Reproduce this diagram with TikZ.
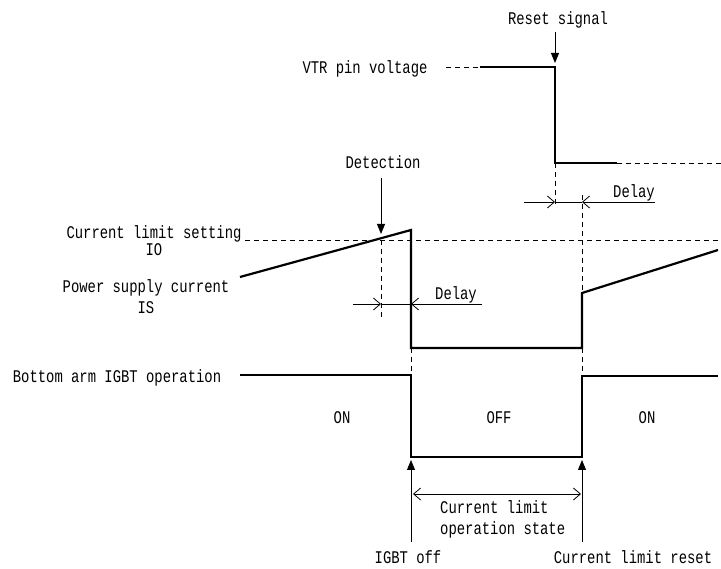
\documentclass[tikz,border=0pt]{standalone}
\usepackage{fontspec}
\newfontfamily\labelfont[FakeStretch=0.78]{Liberation Mono}
\usetikzlibrary{arrows.meta}

\begin{document}
\begin{tikzpicture}[x=1pt,y=-1pt,font=\labelfont\fontsize{17.8}{21}\selectfont,
  wave/.style={line width=2.2pt,line join=miter},
  guide/.style={line width=0.8pt,dash pattern=on 5pt off 4pt},
  dimline/.style={line width=0.8pt},
  pointer/.style={line width=0.9pt,-{Triangle[length=10pt,width=8pt]}},
  barb/.style={line width=0.8pt,-{Straight Barb[length=7pt,width=12pt]}},
  lbl/.style={inner sep=0pt}]
\useasboundingbox (0,0) rectangle (721,569);
% waveform corners
\coordinate (vh0) at (480,67);
\coordinate (vh) at (555,67);
\coordinate (vl) at (555,163);
\coordinate (vl1) at (617,163);
\coordinate (is0) at (240,277);
\coordinate (ispk) at (411,230);
\coordinate (isdn) at (411,348);
\coordinate (isbt) at (582,348);
\coordinate (isup) at (582,293);
\coordinate (isend) at (718,250);
\coordinate (trip) at (381,240);
\coordinate (g0) at (240,375);
\coordinate (g1) at (411,375);
\coordinate (g2) at (411,457);
\coordinate (g3) at (582,457);
\coordinate (g4) at (582,376);
\coordinate (g5) at (718,376);
% labels
\node[lbl] (reset) at (558,20) {Reset signal};
\node[lbl] (vtr) at (365,69) {VTR pin voltage};
\node[lbl] (det) at (383,162) {Detection};
\node[lbl,align=center] (lim) at (154,241) {Current limit setting\\[-4pt]IO};
\node[lbl,align=center] (ps) at (146,297) {Power supply current\\IS};
\node[lbl] (arm) at (117,378) {Bottom arm IGBT operation};
\node[lbl] (on1) at (342,418) {ON};
\node[lbl] (off) at (499,418) {OFF};
\node[lbl] (on2) at (647,418) {ON};
\node[lbl] (dly1) at (456,295) {Delay};
\node[lbl] (dly2) at (634,193) {Delay};
\node[lbl,align=left,anchor=west] (state) at (440,519) {Current limit\\operation state};
\node[lbl] (goff) at (408,557) {IGBT off};
\node[lbl] (lrst) at (633,557) {Current limit reset};
% dashed guides
\draw[guide] (446,67) -- (vh0);
\draw[guide] (vl1) -- (721,163);
\draw[guide] (245,240) -- (721,240);
\draw[guide] (trip) -- (381,320);
\draw[guide] (vl) -- (555,206);
\draw[guide] (582,195) -- (g4);
\draw[guide] (isdn) -- (g1);
% waveforms
\draw[wave] (vh0) -- (vh) -- (vl) -- (vl1);
\draw[wave] (is0) -- (ispk) -- (isdn) -- (isbt) -- (isup) -- (isend);
\draw[wave] (g0) -- (g1) -- (g2) -- (g3) -- (g4) -- (g5);
% pointers
\draw[pointer] (555,32) -- (555,63);
\draw[pointer] (381,178) -- (381,234);
\draw[pointer] (411,542) -- (411,460);
\draw[pointer] (582,542) -- (582,460);
% delays
\draw[barb] (353,304) -- (381,304);
\draw[dimline] (381,304) -- (411,304);
\draw[barb] (482,304) -- (411,304);
\draw[barb] (524,202) -- (555,202);
\draw[dimline] (555,202) -- (582,202);
\draw[barb] (655,202) -- (582,202);
\draw[dimline,{Straight Barb[length=7pt,width=12pt]}-{Straight Barb[length=7pt,width=12pt]}] (413,494) -- (581,494);
\end{tikzpicture}
\end{document}
